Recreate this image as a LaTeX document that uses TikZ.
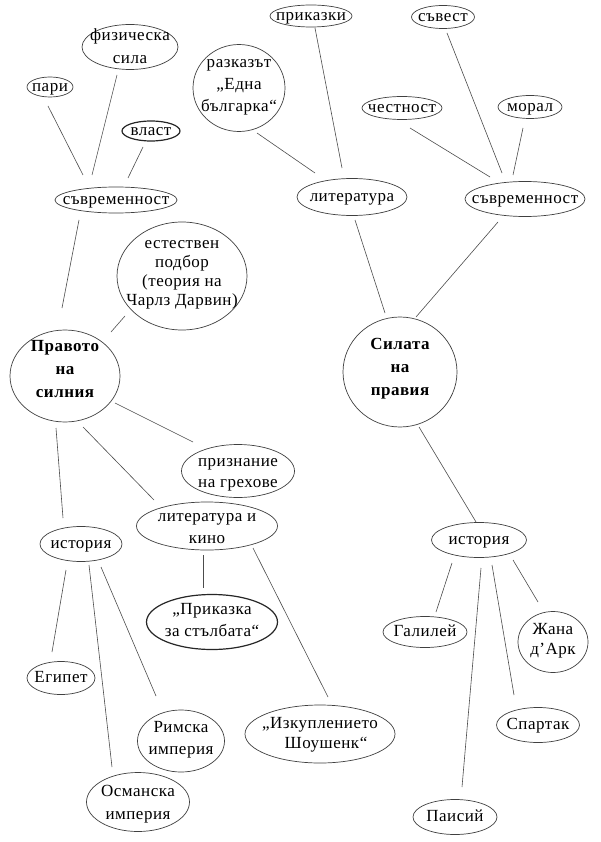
\documentclass[tikz,border=0pt]{standalone}
\usepackage{fontspec}
\setmainfont{Liberation Serif}[LetterSpace=3]
\usetikzlibrary{shapes.geometric}
\newcommand\ctext[2][0pt]{\raisebox{\dimexpr-.27em+#1\relax}[0pt][0pt]{\makebox[0pt]{\begin{tabular}{@{}c@{}}#2\end{tabular}}}}
\begin{document}
\begin{tikzpicture}[x=1pt,y=-1pt,
  font=\fontsize{17}{22}\selectfont,
  bub/.style={draw=black!75, line width=0.7pt, ellipse, inner sep=0pt},
  thickbub/.style={bub, line width=1.2pt, draw=black!85},
  link/.style={draw=black!70, line width=0.6pt}]
\useasboundingbox[fill=white] (0,0) rectangle (600,842);
% left top
\node[bub, minimum width=46, minimum height=20] (pari) at (50,87) {\ctext{пари}};
\node[bub, minimum width=96, minimum height=45] (fiz) at (130,47) {\ctext{физическа\\[1pt]сила}};
\node[thickbub, minimum width=58, minimum height=20] (vlast) at (151,131) {\ctext{власт}};
\node[bub, minimum width=122, minimum height=26] (svL) at (116,200) {\ctext{съвременност}};
\node[bub, minimum width=92, minimum height=87] (razk) at (239,88) {\ctext[3pt]{разказът\\„Една\\българка“}};
\node[bub, minimum width=82, minimum height=22] (prik) at (311,16) {\ctext{приказки}};
\node[bub, minimum width=63, minimum height=23] (savest) at (443,17) {\ctext{съвест}};
\node[bub, minimum width=80, minimum height=23] (chest) at (402,108) {\ctext{честност}};
\node[bub, minimum width=64, minimum height=23] (moral) at (530,107) {\ctext{морал}};
\node[bub, minimum width=110, minimum height=37] (lit) at (352,197) {\ctext{литература}};
\node[bub, minimum width=120, minimum height=35] (svR) at (525,199) {\ctext{съвременност}};
% middle
\node[bub, minimum width=130, minimum height=108] (estest) at (182,276) {\ctext[4pt]{естествен\\[-3pt]подбор\\[-3pt](теория на\\[-3pt]Чарлз Дарвин)}};
\node[bub, minimum width=110, minimum height=92] (pravoto) at (65,376) {\ctext[6pt]{\bfseries Правото\\[1pt]\bfseries на\\[1pt]\bfseries силния}};
\node[bub, minimum width=114, minimum height=110] (silata) at (400,372) {\ctext[4pt]{\bfseries Силата\\[1pt]\bfseries на\\[1pt]\bfseries правия}};
% lower left
\node[bub, minimum width=113, minimum height=53] (priz) at (238,471) {\ctext[-1pt]{признание\\[-1pt]на грехове}};
\node[bub, minimum width=141, minimum height=48] (litkino) at (207,526) {\ctext[-2pt]{литература и\\кино}};
\node[bub, minimum width=82, minimum height=35] (istL) at (81,544) {\ctext{история}};
\node[thickbub, minimum width=131, minimum height=55] (prikst) at (212,622) {\ctext[1pt]{„Приказка\\за стълбата“}};
\node[bub, minimum width=68, minimum height=33] (egipet) at (61,678) {\ctext{Египет}};
\node[bub, minimum width=87, minimum height=62] (rim) at (181,741) {\ctext[2pt]{Римска\\империя}};
\node[bub, minimum width=103, minimum height=59] (osm) at (138,802) {\ctext[-1pt]{Османска\\[1pt]империя}};
\node[bub, minimum width=150, minimum height=58] (izk) at (320,734) {\ctext{„Изкуплението\\[-2pt]\hspace*{12pt}Шоушенк“}};
% lower right
\node[bub, minimum width=95, minimum height=35] (istR) at (479,540) {\ctext{история}};
\node[bub, minimum width=84, minimum height=31] (gal) at (425,632) {\ctext{Галилей}};
\node[bub, minimum width=70, minimum height=61] (jana) at (553,642) {\ctext[2pt]{Жана\\[-2pt]д'Арк}};
\node[bub, minimum width=83, minimum height=35] (spart) at (538,725) {\ctext{Спартак}};
\node[bub, minimum width=84, minimum height=35] (paisiy) at (455,817) {\ctext{Паисий}};
% connectors
\draw[link] ([shift={(-2,19)}]pari.center) -- ([shift={(-33,-25)}]svL.center);
\draw[link] ([shift={(-13,28)}]fiz.center) -- ([shift={(-24,-25)}]svL.center);
\draw[link] ([shift={(-8,16)}]vlast.center) -- ([shift={(12,-22)}]svL.center);
\draw[link] ([shift={(18,45)}]razk.center) -- ([shift={(-37,-24)}]lit.center);
\draw[link] ([shift={(4,12)}]prik.center) -- ([shift={(-10,-29)}]lit.center);
\draw[link] ([shift={(4,16)}]savest.center) -- ([shift={(-23,-26)}]svR.center);
\draw[link] ([shift={(8,20)}]chest.center) -- ([shift={(-35,-22)}]svR.center);
\draw[link] ([shift={(-7,21)}]moral.center) -- ([shift={(-12,-24)}]svR.center);
\draw[link] ([shift={(3,23)}]lit.center) -- ([shift={(-15,-59)}]silata.center);
\draw[link] ([shift={(-27,23)}]svR.center) -- ([shift={(16,-55)}]silata.center);
\draw[link] ([shift={(-37,20)}]svL.center) -- ([shift={(-3,-68)}]pravoto.center);
\draw[link] ([shift={(-57,40)}]estest.center) -- ([shift={(46,-44)}]pravoto.center);
\draw[link] ([shift={(50,27)}]pravoto.center) -- ([shift={(-45,-29)}]priz.center);
\draw[link] ([shift={(18,51)}]pravoto.center) -- ([shift={(-53,-26)}]litkino.center);
\draw[link] ([shift={(-9,52)}]pravoto.center) -- ([shift={(-18,-26)}]istL.center);
\draw[link] ([shift={(-4,29)}]litkino.center) -- ([shift={(-9,-34)}]prikst.center);
\draw[link] ([shift={(46,22)}]litkino.center) -- ([shift={(8,-37)}]izk.center);
\draw[link] ([shift={(-15,26)}]istL.center) -- ([shift={(-9,-26)}]egipet.center);
\draw[link] ([shift={(8,21)}]istL.center) -- ([shift={(-26,-35)}]osm.center);
\draw[link] ([shift={(20,23)}]istL.center) -- ([shift={(-25,-45)}]rim.center);
\draw[link] ([shift={(19,55)}]silata.center) -- ([shift={(-3,-18)}]istR.center);
\draw[link] ([shift={(-27,23)}]istR.center) -- ([shift={(11,-20)}]gal.center);
\draw[link] ([shift={(2,28)}]istR.center) -- ([shift={(7,-30)}]paisiy.center);
\draw[link] ([shift={(13,25)}]istR.center) -- ([shift={(-24,-30)}]spart.center);
\draw[link] ([shift={(34,20)}]istR.center) -- ([shift={(-15,-40)}]jana.center);
\end{tikzpicture}
\end{document}
